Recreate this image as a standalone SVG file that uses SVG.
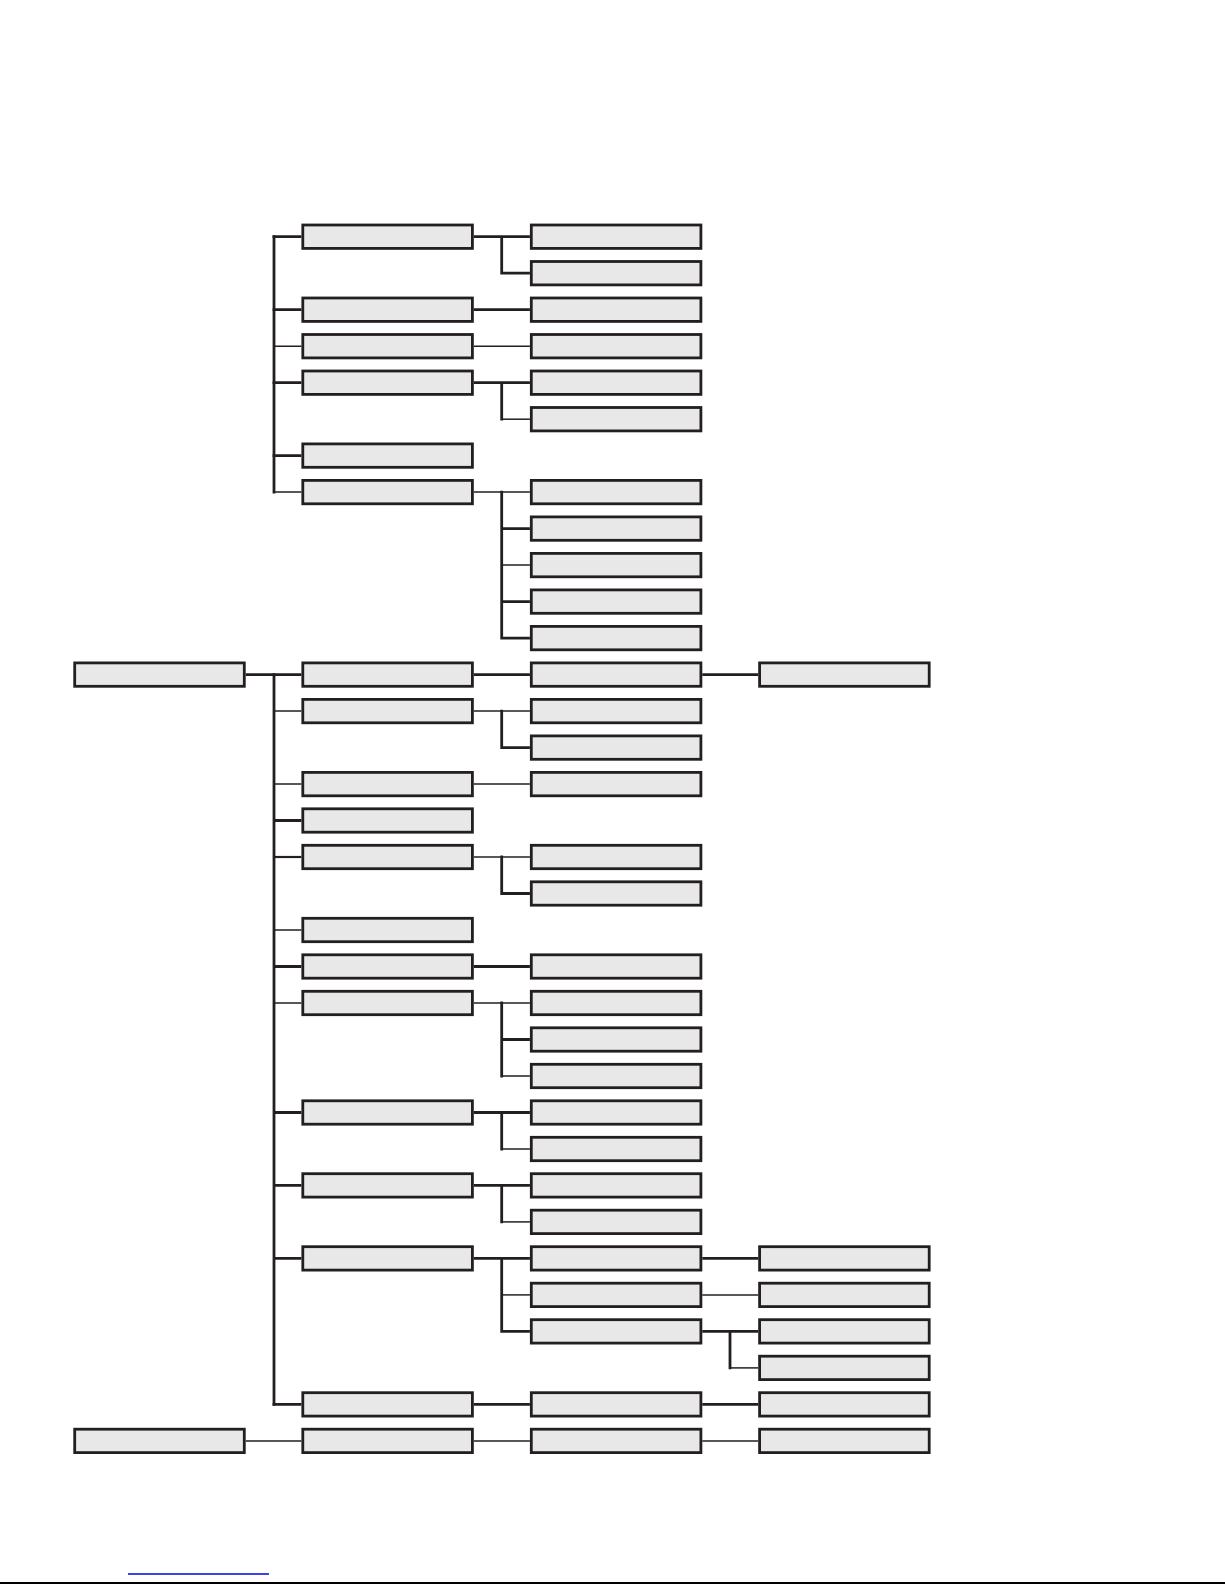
<svg xmlns="http://www.w3.org/2000/svg" width="1225" height="1585" viewBox="0 0 1225 1585">
<style>
.box{fill:#e8e8e8;stroke:#231f20;stroke-width:2.8}
.thick{fill:none;stroke:#231f20;stroke-width:2.8}
.mid{fill:none;stroke:#231f20;stroke-width:2.2}
.thin{fill:none;stroke:#231f20;stroke-width:1.5}
</style>
<rect x="0" y="0" width="1225" height="1585" fill="#ffffff"/>
<g id="connectors">
<path class="thick" d="M274 235.3V493.5"/>
<path class="thick" d="M272.6 236.7H301.4M272.6 309.7H301.4M272.6 382.7H301.4M272.6 455.6H301.4"/>
<path class="thin" d="M274 346.2H301.4M274 492.1H301.4"/>
<path class="thick" d="M245.7 674.6H301.4"/>
<path class="thick" d="M274 673.2V1405.8"/>
<path class="thick" d="M274 820.5H301.4M274 966.5H301.4M274 1112.5H301.4M274 1185.4H301.4M274 1258.4H301.4M272.6 1404.4H301.4"/>
<path class="mid" d="M274 857H301.4"/>
<path class="thin" d="M274 711.1H301.4M274 784.1H301.4M274 930H301.4M274 1003H301.4"/>
<path class="thin" d="M245.7 1440.9H301.4M473.8 1440.9H529.9M702.3 1440.9H758.2"/>
<path class="thick" d="M473.8 236.7H529.9M501.7 235.3V274.6M500.3 273.2H529.9"/>
<path class="thick" d="M473.8 309.7H529.9"/>
<path class="thin" d="M473.8 346.2H529.9"/>
<path class="thick" d="M473.8 382.7H529.9M501.7 381.3V420.6"/>
<path class="thin" d="M501.7 419.2H529.9"/>
<path class="thin" d="M473.8 492.1H529.9M501.7 565.1H529.9"/>
<path class="thick" d="M501.7 490.7V639.5M501.7 528.6H529.9M501.7 601.6H529.9M500.3 638.1H529.9"/>
<path class="thick" d="M473.8 674.6H529.9M702.3 674.6H758.2"/>
<path class="thin" d="M473.8 711.1H529.9"/>
<path class="thick" d="M501.7 709.7V749M500.3 747.6H529.9"/>
<path class="thin" d="M473.8 784.1H529.9"/>
<path class="thin" d="M473.8 857H529.9"/>
<path class="thick" d="M501.7 855.6V894.9M500.3 893.5H529.9"/>
<path class="thick" d="M473.8 966.5H529.9"/>
<path class="thin" d="M473.8 1003H529.9M501.7 1076H529.9"/>
<path class="thick" d="M501.7 1001.6V1077.4M501.7 1039.5H529.9"/>
<path class="thick" d="M473.8 1112.5H529.9M501.7 1111.1V1150.4"/>
<path class="thin" d="M501.7 1149H529.9"/>
<path class="thick" d="M473.8 1185.4H529.9M501.7 1184V1223.3"/>
<path class="thin" d="M501.7 1221.9H529.9"/>
<path class="thick" d="M473.8 1258.4H529.9M501.7 1257V1332.8M500.3 1331.4H529.9"/>
<path class="thin" d="M501.7 1294.9H529.9"/>
<path class="thick" d="M473.8 1404.4H529.9M702.3 1404.4H758.2"/>
<path class="thick" d="M702.3 1258.4H758.2"/>
<path class="thin" d="M702.3 1294.9H758.2"/>
<path class="thick" d="M702.3 1331.4H758.2M730 1330V1369.3"/>
<path class="thin" d="M730 1367.9H758.2"/>
</g>
<g id="n-c1-r12"><rect class="box" x="74.7" y="662.9" width="169.6" height="23.4"/></g>
<g id="n-c1-r33"><rect class="box" x="74.7" y="1429.2" width="169.6" height="23.4"/></g>
<g id="n-c2-r0"><rect class="box" x="302.8" y="225" width="169.6" height="23.4"/></g>
<g id="n-c2-r2"><rect class="box" x="302.8" y="298" width="169.6" height="23.4"/></g>
<g id="n-c2-r3"><rect class="box" x="302.8" y="334.5" width="169.6" height="23.4"/></g>
<g id="n-c2-r4"><rect class="box" x="302.8" y="371" width="169.6" height="23.4"/></g>
<g id="n-c2-r6"><rect class="box" x="302.8" y="443.9" width="169.6" height="23.4"/></g>
<g id="n-c2-r7"><rect class="box" x="302.8" y="480.4" width="169.6" height="23.4"/></g>
<g id="n-c2-r12"><rect class="box" x="302.8" y="662.9" width="169.6" height="23.4"/></g>
<g id="n-c2-r13"><rect class="box" x="302.8" y="699.4" width="169.6" height="23.4"/></g>
<g id="n-c2-r15"><rect class="box" x="302.8" y="772.4" width="169.6" height="23.4"/></g>
<g id="n-c2-r16"><rect class="box" x="302.8" y="808.8" width="169.6" height="23.4"/></g>
<g id="n-c2-r17"><rect class="box" x="302.8" y="845.3" width="169.6" height="23.4"/></g>
<g id="n-c2-r19"><rect class="box" x="302.8" y="918.3" width="169.6" height="23.4"/></g>
<g id="n-c2-r20"><rect class="box" x="302.8" y="954.8" width="169.6" height="23.4"/></g>
<g id="n-c2-r21"><rect class="box" x="302.8" y="991.3" width="169.6" height="23.4"/></g>
<g id="n-c2-r24"><rect class="box" x="302.8" y="1100.8" width="169.6" height="23.4"/></g>
<g id="n-c2-r26"><rect class="box" x="302.8" y="1173.7" width="169.6" height="23.4"/></g>
<g id="n-c2-r28"><rect class="box" x="302.8" y="1246.7" width="169.6" height="23.4"/></g>
<g id="n-c2-r32"><rect class="box" x="302.8" y="1392.7" width="169.6" height="23.4"/></g>
<g id="n-c2-r33"><rect class="box" x="302.8" y="1429.2" width="169.6" height="23.4"/></g>
<g id="n-c3-r0"><rect class="box" x="531.3" y="225" width="169.6" height="23.4"/></g>
<g id="n-c3-r1"><rect class="box" x="531.3" y="261.5" width="169.6" height="23.4"/></g>
<g id="n-c3-r2"><rect class="box" x="531.3" y="298" width="169.6" height="23.4"/></g>
<g id="n-c3-r3"><rect class="box" x="531.3" y="334.5" width="169.6" height="23.4"/></g>
<g id="n-c3-r4"><rect class="box" x="531.3" y="371" width="169.6" height="23.4"/></g>
<g id="n-c3-r5"><rect class="box" x="531.3" y="407.5" width="169.6" height="23.4"/></g>
<g id="n-c3-r7"><rect class="box" x="531.3" y="480.4" width="169.6" height="23.4"/></g>
<g id="n-c3-r8"><rect class="box" x="531.3" y="516.9" width="169.6" height="23.4"/></g>
<g id="n-c3-r9"><rect class="box" x="531.3" y="553.4" width="169.6" height="23.4"/></g>
<g id="n-c3-r10"><rect class="box" x="531.3" y="589.9" width="169.6" height="23.4"/></g>
<g id="n-c3-r11"><rect class="box" x="531.3" y="626.4" width="169.6" height="23.4"/></g>
<g id="n-c3-r12"><rect class="box" x="531.3" y="662.9" width="169.6" height="23.4"/></g>
<g id="n-c3-r13"><rect class="box" x="531.3" y="699.4" width="169.6" height="23.4"/></g>
<g id="n-c3-r14"><rect class="box" x="531.3" y="735.9" width="169.6" height="23.4"/></g>
<g id="n-c3-r15"><rect class="box" x="531.3" y="772.4" width="169.6" height="23.4"/></g>
<g id="n-c3-r17"><rect class="box" x="531.3" y="845.3" width="169.6" height="23.4"/></g>
<g id="n-c3-r18"><rect class="box" x="531.3" y="881.8" width="169.6" height="23.4"/></g>
<g id="n-c3-r20"><rect class="box" x="531.3" y="954.8" width="169.6" height="23.4"/></g>
<g id="n-c3-r21"><rect class="box" x="531.3" y="991.3" width="169.6" height="23.4"/></g>
<g id="n-c3-r22"><rect class="box" x="531.3" y="1027.8" width="169.6" height="23.4"/></g>
<g id="n-c3-r23"><rect class="box" x="531.3" y="1064.3" width="169.6" height="23.4"/></g>
<g id="n-c3-r24"><rect class="box" x="531.3" y="1100.8" width="169.6" height="23.4"/></g>
<g id="n-c3-r25"><rect class="box" x="531.3" y="1137.3" width="169.6" height="23.4"/></g>
<g id="n-c3-r26"><rect class="box" x="531.3" y="1173.7" width="169.6" height="23.4"/></g>
<g id="n-c3-r27"><rect class="box" x="531.3" y="1210.2" width="169.6" height="23.4"/></g>
<g id="n-c3-r28"><rect class="box" x="531.3" y="1246.7" width="169.6" height="23.4"/></g>
<g id="n-c3-r29"><rect class="box" x="531.3" y="1283.2" width="169.6" height="23.4"/></g>
<g id="n-c3-r30"><rect class="box" x="531.3" y="1319.7" width="169.6" height="23.4"/></g>
<g id="n-c3-r32"><rect class="box" x="531.3" y="1392.7" width="169.6" height="23.4"/></g>
<g id="n-c3-r33"><rect class="box" x="531.3" y="1429.2" width="169.6" height="23.4"/></g>
<g id="n-c4-r12"><rect class="box" x="759.6" y="662.9" width="169.6" height="23.4"/></g>
<g id="n-c4-r28"><rect class="box" x="759.6" y="1246.7" width="169.6" height="23.4"/></g>
<g id="n-c4-r29"><rect class="box" x="759.6" y="1283.2" width="169.6" height="23.4"/></g>
<g id="n-c4-r30"><rect class="box" x="759.6" y="1319.7" width="169.6" height="23.4"/></g>
<g id="n-c4-r31"><rect class="box" x="759.6" y="1356.2" width="169.6" height="23.4"/></g>
<g id="n-c4-r32"><rect class="box" x="759.6" y="1392.7" width="169.6" height="23.4"/></g>
<g id="n-c4-r33"><rect class="box" x="759.6" y="1429.2" width="169.6" height="23.4"/></g>
<g id="footer">
<path d="M128 1574H269" fill="none" stroke="#0000ee" stroke-width="1.3"/>
<path d="M0 1583H1225" fill="none" stroke="#000000" stroke-width="2"/>
</g>
</svg>
